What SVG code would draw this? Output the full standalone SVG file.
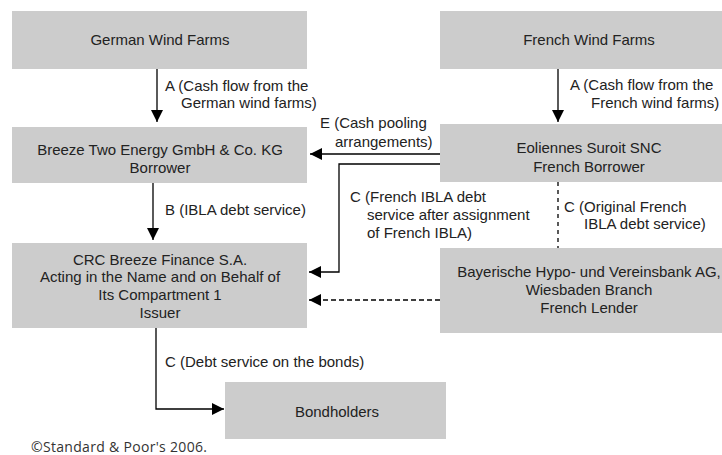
<svg xmlns="http://www.w3.org/2000/svg" width="722" height="455" viewBox="0 0 722 455">
<style>
.box{fill:#cccccc;stroke:none}
text{font-family:"Liberation Sans",Arial,sans-serif;font-size:15px;fill:#222222}
.c{text-anchor:middle}
.ln{fill:none;stroke:#000;stroke-width:1.3}
.dash{stroke-dasharray:5 3}
.dot{stroke-dasharray:4 4}
.copy{font-family:"Open Sans",sans-serif;font-size:14px;fill:#333}
</style>
<defs>
<marker id="ah" markerUnits="userSpaceOnUse" markerWidth="12" markerHeight="12" refX="12" refY="6" orient="auto">
<path d="M0,0 L12,6 L0,12 Z" fill="#000"/>
</marker>
</defs>
<rect width="722" height="455" fill="#fff"/>

<g id="german-wind-farms">
<rect class="box" x="12" y="11" width="295" height="58"/>
<text class="c" x="160" y="45">German Wind Farms</text>
</g>
<g id="french-wind-farms">
<rect class="box" x="440" y="11" width="298" height="58"/>
<text class="c" x="589" y="45">French Wind Farms</text>
</g>
<g id="breeze-two">
<rect class="box" x="12" y="127" width="295" height="56"/>
<text class="c" x="160" y="155">Breeze Two Energy GmbH &amp; Co. KG</text>
<text class="c" x="160" y="173">Borrower</text>
</g>
<g id="eoliennes">
<rect class="box" x="440" y="124" width="298" height="58"/>
<text class="c" x="589" y="153">Eoliennes Suroit SNC</text>
<text class="c" x="589" y="172">French Borrower</text>
</g>
<g id="crc-breeze">
<rect class="box" x="12" y="243" width="295" height="85"/>
<text class="c" x="160" y="265">CRC Breeze Finance S.A.</text>
<text class="c" x="160" y="282">Acting in the Name and on Behalf of</text>
<text class="c" x="160" y="300">Its Compartment 1</text>
<text class="c" x="160" y="318">Issuer</text>
</g>
<g id="bayerische">
<rect class="box" x="440" y="248" width="298" height="85"/>
<text class="c" x="589" y="277">Bayerische Hypo- und Vereinsbank AG,</text>
<text class="c" x="589" y="295">Wiesbaden Branch</text>
<text class="c" x="589" y="313">French Lender</text>
</g>
<g id="bondholders">
<rect class="box" x="225" y="382" width="221" height="57"/>
<text class="c" x="337" y="417">Bondholders</text>
</g>

<g id="connectors">
<path class="ln" d="M157,69 V122" marker-end="url(#ah)"/>
<path class="ln" d="M558,69 V122" marker-end="url(#ah)"/>
<path class="ln" d="M153,183 V240" marker-end="url(#ah)"/>
<path class="ln" d="M440,154 H310" marker-end="url(#ah)"/>
<path class="ln" d="M440,164 H339 V272 H309" marker-end="url(#ah)"/>
<path class="ln dash" d="M440,300 H309" marker-end="url(#ah)"/>
<path class="ln dot" d="M558,182 V248"/>
<path class="ln" d="M156,328 V409 H224" marker-end="url(#ah)"/>
</g>

<g id="labels">
<text x="165" y="91">A (Cash flow from the</text>
<text x="181" y="108">German wind farms)</text>
<text x="570" y="90">A (Cash flow from the</text>
<text x="591" y="108">French wind farms)</text>
<text x="165" y="215">B (IBLA debt service)</text>
<text x="320" y="128">E (Cash pooling</text>
<text x="335" y="147">arrangements)</text>
<text x="350" y="202">C (French IBLA debt</text>
<text x="367" y="220">service after assignment</text>
<text x="367" y="238">of French IBLA)</text>
<text x="564" y="212">C (Original French</text>
<text x="584" y="229">IBLA debt service)</text>
<text x="165" y="367">C (Debt service on the bonds)</text>
</g>
<text class="copy" x="31" y="452" textLength="176">©Standard &amp; Poor's 2006.</text>
</svg>
